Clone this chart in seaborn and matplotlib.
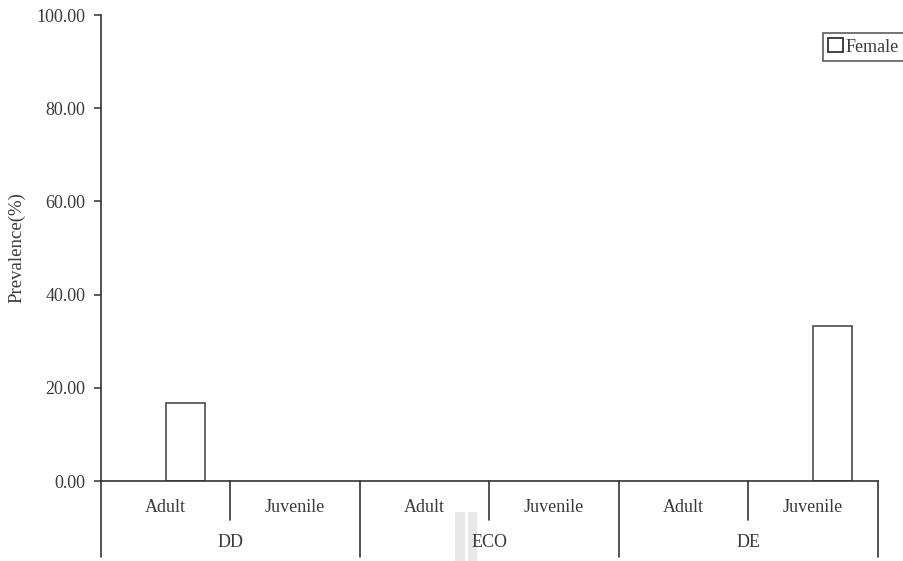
import matplotlib
matplotlib.use("Agg")
import matplotlib.pyplot as plt
import matplotlib.transforms as mtransforms
from matplotlib.patches import Rectangle
import pandas as pd
import seaborn as sns

# Prevalence by habitat and age class
sites = ["DD", "DD", "ECO", "ECO", "DE", "DE"]
ages = ["Adult", "Juvenile", "Adult", "Juvenile", "Adult", "Juvenile"]
female = [16.67, 0.0, 0.0, 0.0, 0.0, 33.33]
group_names = ["DD", "ECO", "DE"]
y_ticks = [0, 20, 40, 60, 80, 100]

categories = [f"{s}-{a}" for s, a in zip(sites, ages)]
df = pd.DataFrame({
    "category": categories * 2,
    "sex": ["Male"] * len(categories) + ["Female"] * len(categories),
    "prevalence": [float("nan")] * len(categories) + [v if v > 0 else float("nan") for v in female],
})

sns.set_theme(style="white")
plt.rcParams["font.family"] = ["Liberation Serif", "DejaVu Serif"]
text_color = "#3a3a3a"
line_color = "#333333"
fs = 13

fig = plt.figure(figsize=(9.04, 5.61), dpi=100)
ax = fig.add_axes([101 / 904, (561 - 481) / 561, 777 / 904, 466 / 561])

sns.barplot(data=df, x="category", y="prevalence", hue="sex",
            hue_order=["Male", "Female"], order=categories,
            palette={"Male": "white", "Female": "white"},
            edgecolor="#5a5a5a", linewidth=1.3, width=0.6,
            legend=False, ax=ax)

ax.set_xlim(-0.5, len(categories) - 0.5)
ax.set_ylim(0, 100)
ax.set_yticks(y_ticks)
ax.set_yticklabels([f"{t:.2f}" for t in y_ticks], fontsize=fs, color=text_color)
ax.tick_params(axis="y", direction="out", length=5, width=1.1, color=line_color,
               left=True, pad=6)
ax.set_xticks([])
ax.set_xlabel("")
ax.set_ylabel("Prevalence(%)", fontsize=13.5, color=text_color, labelpad=8)

for side in ["top", "right"]:
    ax.spines[side].set_visible(False)
for side in ["left", "bottom"]:
    ax.spines[side].set_color(line_color)
    ax.spines[side].set_linewidth(1.2)

# two-level category axis below the plot
trans = mtransforms.blended_transform_factory(ax.transData, ax.transAxes)
n = len(categories)
for i in range(n + 1):
    x = i - 0.5
    long_line = (i % 2 == 0)
    y_end = -0.163 if long_line else -0.084
    ax.plot([x, x], [0, y_end], transform=trans, color=line_color,
            lw=1.2, clip_on=False)
for i, a in enumerate(ages):
    ax.text(i, -0.056, a, transform=trans, ha="center", va="center",
            fontsize=fs, color=text_color)
for g, name in enumerate(group_names):
    ax.text(2 * g + 0.5, -0.133, name, transform=trans, ha="center",
            va="center", fontsize=fs, color=text_color)

# legend for the plotted series
handle = Rectangle((0, 0), 1, 1, facecolor="white", edgecolor="#333333", lw=1.3)
leg = fig.legend([handle], ["Female"], loc="upper right",
                 bbox_to_anchor=(904 / 904, (561 - 33) / 561),
                 frameon=True, fancybox=False, fontsize=fs,
                 handlelength=0.8, handleheight=0.8, handletextpad=0.15,
                 borderpad=0.3, borderaxespad=0)
leg.get_frame().set_edgecolor("#333333")
leg.get_frame().set_linewidth(1.2)
for t in leg.get_texts():
    t.set_color(text_color)

# faint gray strip behind the middle group label
for x0, w in [(455, 10), (468, 9)]:
    fig.patches.append(Rectangle((x0 / 904, 0), w / 904, (561 - 512) / 561,
                                 transform=fig.transFigure, facecolor="#e8e8e8",
                                 edgecolor="none", zorder=-1))

fig.savefig("out.png", dpi=100)
